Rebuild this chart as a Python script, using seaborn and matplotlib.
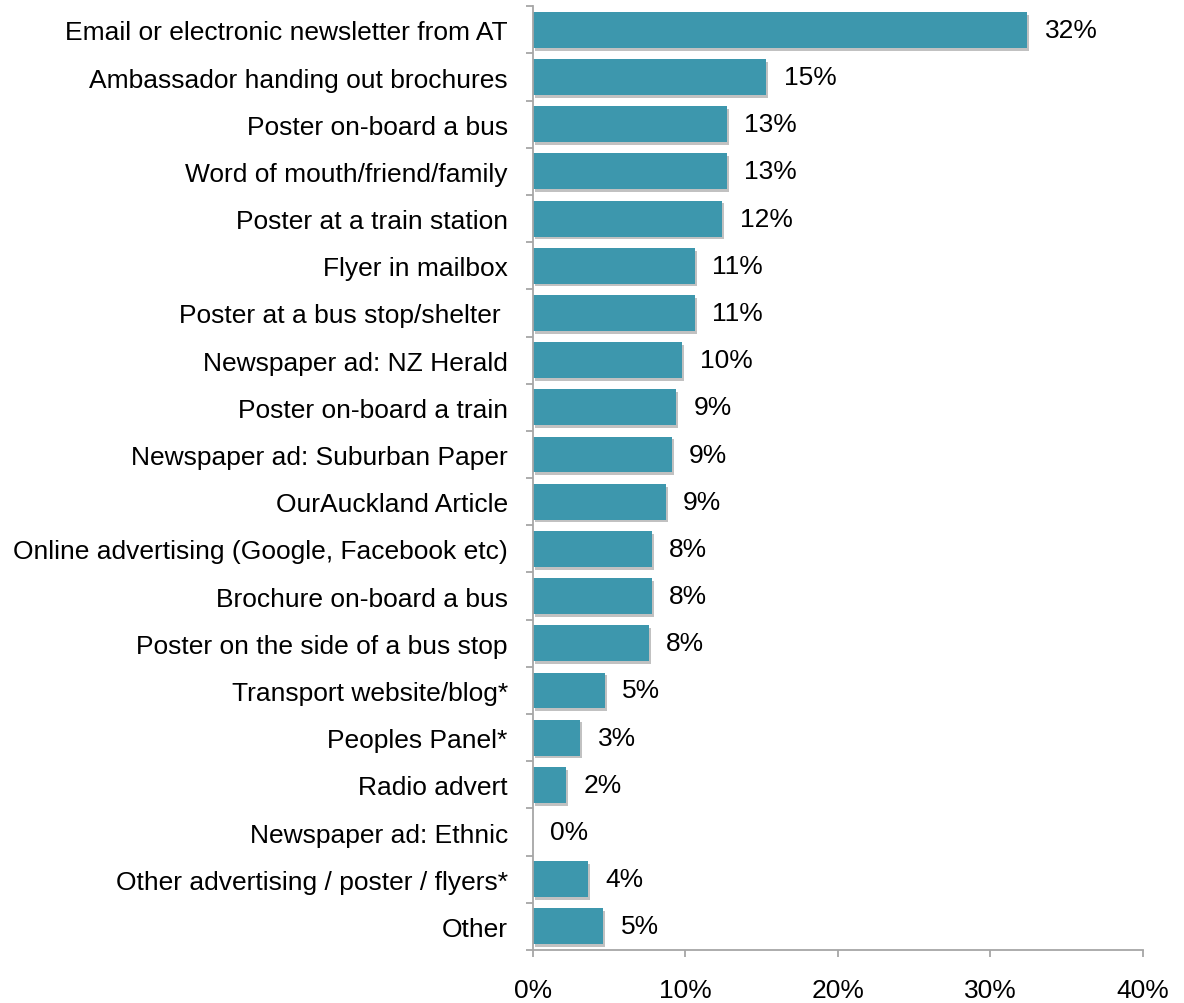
import matplotlib
matplotlib.use("Agg")
import matplotlib.pyplot as plt
import matplotlib.patheffects as pe
from matplotlib.ticker import FixedLocator, FuncFormatter
import numpy as np
import pandas as pd
import seaborn as sns

categories = [
    "Email or electronic newsletter from AT",
    "Ambassador handing out brochures",
    "Poster on-board a bus",
    "Word of mouth/friend/family",
    "Poster at a train station",
    "Flyer in mailbox",
    "Poster at a bus stop/shelter ",
    "Newspaper ad: NZ Herald",
    "Poster on-board a train",
    "Newspaper ad: Suburban Paper",
    "OurAuckland Article",
    "Online advertising (Google, Facebook etc)",
    "Brochure on-board a bus",
    "Poster on the side of a bus stop",
    "Transport website/blog*",
    "Peoples Panel*",
    "Radio advert",
    "Newspaper ad: Ethnic",
    "Other advertising / poster / flyers*",
    "Other",
]
percent = [32.4, 15.3, 12.7, 12.7, 12.4, 10.6, 10.6, 9.8, 9.4, 9.1,
           8.7, 7.8, 7.8, 7.6, 4.7, 3.1, 2.2, 0.0, 3.6, 4.6]
x_ticks = [0, 10, 20, 30, 40]

df = pd.DataFrame({"source": categories, "pct": percent})

sns.set_theme(style="white")
plt.rcParams["font.family"] = ["Liberation Sans", "DejaVu Sans"]

fig = plt.figure(figsize=(11.84, 10.04), dpi=100)
ax = fig.add_axes([0.450, 0.0528, 0.5154, 0.9400])

sns.barplot(data=df, x="pct", y="source", color="#3d97ad", saturation=1,
            width=0.76, ax=ax, orient="h")

shadow = [pe.SimplePatchShadow(offset=(1.5, -2), shadow_rgbFace="#777777", alpha=0.45),
          pe.Normal()]
for p in ax.patches:
    p.set_edgecolor("none")
    p.set_path_effects(shadow)

for i, v in enumerate(percent):
    ax.text(v + 1.15, i, f"{v:.0f}%", va="center", ha="left", fontsize=19, color="black")

ax.set_xlim(0, 40)
ax.set_ylim(len(categories) - 0.5, -0.5)
ax.xaxis.set_major_locator(FixedLocator(x_ticks))
ax.xaxis.set_major_formatter(FuncFormatter(lambda v, _: f"{v:.0f}%"))
ax.set_xlabel("")
ax.set_ylabel("")

for side in ["top", "right"]:
    ax.spines[side].set_visible(False)
for side in ["left", "bottom"]:
    ax.spines[side].set_color("#a6a6a6")
    ax.spines[side].set_linewidth(1.3)

ax.tick_params(axis="x", which="major", direction="out", length=5, width=1.3,
               color="#a6a6a6", labelsize=19, pad=15, labelcolor="black", bottom=True)
ax.tick_params(axis="y", which="major", length=0, labelsize=19, pad=18, labelcolor="black", left=True)
ax.yaxis.set_minor_locator(FixedLocator(np.arange(-0.5, len(categories), 1.0)))
ax.tick_params(axis="y", which="minor", direction="out", length=5, width=1.3,
               color="#a6a6a6", left=True)

fig.savefig("out.png", dpi=100, facecolor="white")
